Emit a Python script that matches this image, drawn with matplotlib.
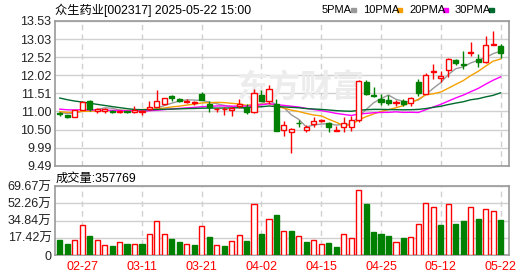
import matplotlib
matplotlib.use("Agg")
import matplotlib.pyplot as plt
import numpy as np
import pandas as pd

# 众生药业 daily K-line, 2025-02-24 .. 2025-05-22 (60 sessions)
holidays = ["2025-04-04", "2025-05-01", "2025-05-02", "2025-05-05"]
dates = [d for d in pd.bdate_range("2025-02-24", "2025-05-22") if d.strftime("%Y-%m-%d") not in holidays]

opens = [10.96, 10.90, 10.85, 11.05, 11.30, 11.02, 11.03, 11.03, 11.00, 11.01,
         11.00, 11.00, 11.07, 11.14, 11.22, 11.43, 11.35, 11.27, 11.24, 11.49,
         11.22, 11.06, 11.07, 11.05, 11.17, 11.12, 10.98, 11.47, 11.31, 11.20,
         10.48, 10.43, 10.69, 10.50, 10.65, 10.74, 10.68, 10.46, 10.57, 10.58,
         10.77, 11.82, 11.45, 11.36, 11.32, 11.25, 11.29, 11.24, 11.83, 11.50,
         12.10, 11.95, 12.16, 12.44, 12.32, 12.64, 12.46, 12.38, 12.86, 12.82]
highs = [11.00, 10.91, 11.05, 11.31, 11.33, 11.11, 11.10, 11.05, 11.04, 11.02,
         11.15, 11.05, 11.29, 11.61, 11.39, 11.47, 11.38, 11.34, 11.30, 11.55,
         11.29, 11.11, 11.14, 11.14, 11.35, 11.20, 11.64, 11.59, 11.73, 11.35,
         10.73, 10.55, 10.77, 10.63, 10.86, 10.80, 10.72, 10.60, 10.85, 10.88,
         11.87, 11.89, 11.69, 11.50, 11.45, 11.33, 11.35, 11.41, 11.91, 12.08,
         12.32, 12.13, 12.50, 12.46, 12.69, 12.94, 12.62, 13.11, 13.25, 12.88]
lows = [10.88, 10.82, 10.84, 11.04, 11.03, 10.96, 10.96, 10.96, 10.96, 10.96,
        10.96, 10.90, 11.05, 11.12, 11.19, 11.31, 11.26, 11.23, 11.19, 11.32,
        11.00, 10.98, 10.91, 10.89, 11.10, 10.92, 10.96, 11.29, 11.22, 10.47,
        10.33, 9.85, 10.58, 10.44, 10.58, 10.70, 10.44, 10.46, 10.44, 10.46,
        10.72, 11.45, 11.40, 11.19, 11.18, 11.15, 11.15, 11.16, 11.43, 11.48,
        11.91, 11.82, 11.97, 12.30, 12.19, 12.55, 12.24, 12.36, 12.85, 12.50]
closes = [10.93, 10.84, 11.05, 11.27, 11.06, 11.07, 11.08, 11.00, 11.02, 10.98,
          11.05, 11.00, 11.13, 11.30, 11.38, 11.37, 11.30, 11.30, 11.26, 11.33,
          11.13, 11.08, 11.07, 11.10, 11.20, 10.98, 11.52, 11.31, 11.63, 10.47,
          10.62, 10.52, 10.67, 10.58, 10.74, 10.76, 10.56, 10.48, 10.68, 10.76,
          11.86, 11.50, 11.43, 11.27, 11.25, 11.27, 11.20, 11.38, 11.52, 12.03,
          12.13, 12.00, 12.48, 12.35, 12.29, 12.67, 12.38, 12.85, 12.90, 12.63]
# earlier 29 closes, estimated from where the moving averages start
early_closes = [12.25, 12.18, 12.10, 12.05, 12.02, 11.98, 11.95, 11.90, 11.82, 11.75,
                11.20, 11.15, 11.10, 11.18, 11.22, 11.12, 11.08, 11.15, 11.10, 11.10,
                11.05, 11.00, 11.03, 11.02, 11.00, 11.00, 10.98, 11.01, 10.97]

# volume in 万 shares; r = rose vs previous close, g = fell
volumes = [15.3, 11.1, 15.0, 30.7, 19.5, 15.0, 9.8, 9.1, 12.9, 11.1,
           10.8, 11.1, 21.3, 34.8, 21.3, 16.4, 13.2, 10.8, 10.1, 29.6,
           18.5, 9.8, 9.1, 13.9, 20.2, 14.3, 51.6, 21.6, 36.9, 40.4,
           24.4, 24.7, 19.2, 13.2, 15.0, 10.8, 12.2, 8.0, 21.3, 17.1,
           66.35, 51.9, 23.7, 21.6, 19.5, 12.9, 17.4, 18.1, 31.7, 52.6,
           48.4, 30.0, 51.6, 31.0, 34.1, 48.4, 36.2, 46.3, 44.2, 35.7769]
vol_dir = "".join(["ggrrgrrgrg", "rgrrrggrgr", "grgrrgrgrg",
                   "rgrgrrggrr", "rggggrgrrr", "rgrggrgrrg"])

tick_dates = ["02-27", "03-11", "03-21", "04-02", "04-15", "04-25", "05-12", "05-22"]
price_ticks = ["9.49", "9.99", "10.50", "11.00", "11.51", "12.02", "12.52", "13.03", "13.53"]
vol_ticks = ["0", "17.42万", "34.84万", "52.26万", "69.67万"]
ma_periods = [5, 10, 20, 30]
ma_colors = ["#999999", "#f5a000", "#ff00ff", "#006b2e"]

RED = "#ff0000"
GREEN = "#008000"
GRID = "#d0d0d0"
EDGE = "#999999"

plt.rcParams["font.family"] = ["Liberation Sans", "Noto Sans CJK SC"]

W, H = 530, 276
fig = plt.figure(figsize=(W / 100, H / 100), dpi=100)
fig.patch.set_facecolor("white")


def px_axes(x0, y0, x1, y1):
    return fig.add_axes([x0 / W, 1 - y1 / H, (x1 - x0) / W, (y1 - y0) / H])


ax = px_axes(55, 21, 509, 165.7)
axv = px_axes(55, 186.3, 509, 255)

n = len(closes)
x = np.arange(n)
labels = [d.strftime("%m-%d") for d in dates]
tick_idx = [labels.index(t) for t in tick_dates]

o = np.array(opens)
c = np.array(closes)
up = c >= o
bw = 0.68

# moving averages
allc = pd.Series(early_closes + closes)
for p, col in zip(ma_periods, ma_colors):
    ma = allc.rolling(p).mean().values[len(early_closes):]
    ax.plot(x, ma, color=col, lw=1, zorder=2)

# candles
ax.vlines(x, lows, highs, colors=np.where(up, RED, GREEN), lw=1, zorder=3)
body_lo = np.minimum(o, c)
body_h = np.maximum(np.abs(c - o), 0.012)
ax.bar(x[up], body_h[up], bottom=body_lo[up], width=bw, facecolor="white",
       edgecolor=RED, lw=1, zorder=4)
ax.bar(x[~up], body_h[~up], bottom=body_lo[~up], width=bw, facecolor=GREEN,
       edgecolor=GREEN, lw=1, zorder=4)

# volume
vup = np.array([d == "r" for d in vol_dir])
v = np.array(volumes)
axv.bar(x[vup], v[vup], width=bw, facecolor="white", edgecolor=RED, lw=1, zorder=3)
axv.bar(x[~vup], v[~vup], width=bw, facecolor=GREEN, edgecolor=GREEN, lw=1, zorder=3)

xl = (-0.64, 60.13)
pt = np.linspace(9.49, 13.53, 9)
for a in (ax, axv):
    a.set_xlim(*xl)
    a.set_xticks(tick_idx)
    a.grid(axis="x", color=GRID, ls=(0, (4, 3)), lw=1)
    a.grid(axis="y", color=GRID, lw=1)
    a.set_axisbelow(True)
    for s in a.spines.values():
        s.set_color(EDGE)
        s.set_linewidth(1.2)
    a.tick_params(length=0, labelsize=9, colors="#222222", pad=2.5)

ax.set_ylim(9.49, 13.53)
ax.set_yticks(pt)
ax.set_yticklabels(price_ticks)
ax.set_xticklabels([])

vmax = 69.67
axv.set_ylim(0, vmax)
axv.set_yticks(np.linspace(0, vmax, 5))
axv.set_yticklabels(vol_ticks)
axv.set_xticklabels(tick_dates)
axv.tick_params(axis="x", colors=RED, labelsize=9, pad=4)

# watermark
ax.text(0.54, 0.53, "东方财富", transform=ax.transAxes, fontsize=23, color="#ececec",
        ha="center", va="center", fontweight="bold", family="Noto Sans CJK SC", zorder=1)

fig.text(55 / W, 1 - 10 / H, "众生药业[002317] 2025-05-22 15:00", fontsize=8.8,
         ha="left", va="center", color="#000000")
fig.text(56 / W, 1 - 179 / H, "成交量:357769", fontsize=8.8, ha="left", va="center", color="#000000")

# legend in the header
lx = 322
for p, col in zip(ma_periods, ma_colors):
    fig.text(lx / W, 1 - 10 / H, f"{p}PMA", fontsize=8, ha="left", va="center")
    w = 26 if p == 5 else 31
    fig.patches.append(plt.Rectangle(((lx + w + 3) / W, 1 - 12 / H), 5 / W, 4 / H,
                                     transform=fig.transFigure, color=col))
    lx += w + 15

fig.savefig("out.png", dpi=100)
